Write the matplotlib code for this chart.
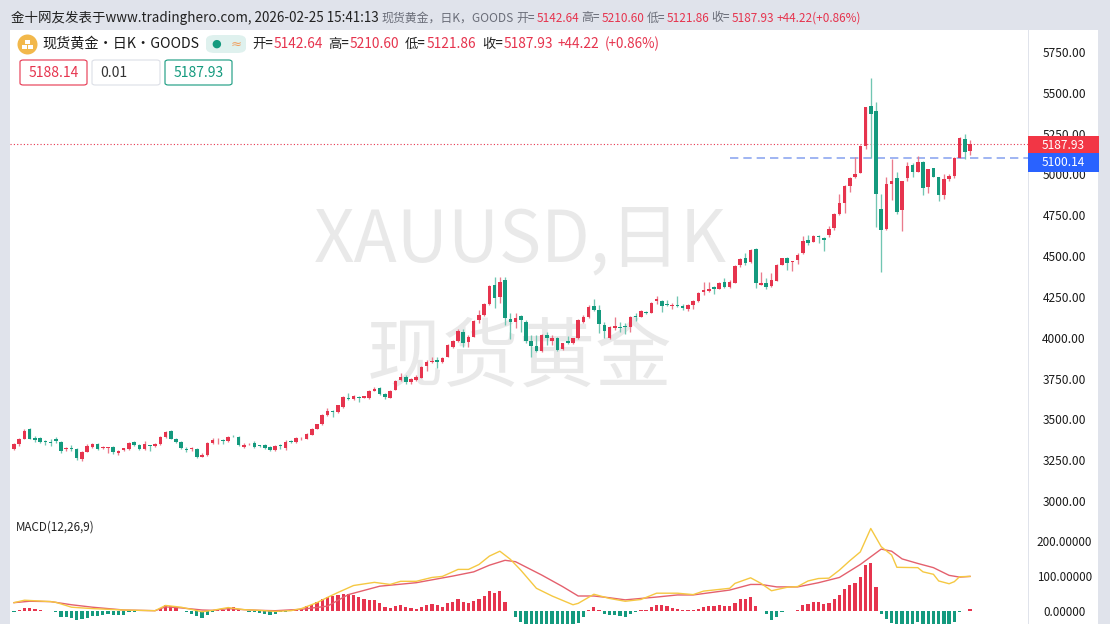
import matplotlib
matplotlib.use("Agg")
import matplotlib.pyplot as plt
from matplotlib.patches import Rectangle, FancyBboxPatch, Circle

opens = [3317,3346,3382,3441,3388,3386,3366,3364,3382,3362,
3319,3327,3319,3256,3299,3333,3352,3325,3327,3333,
3293,3311,3317,3364,3344,3317,3344,3337,3346,3391,
3429,3382,3362,3319,3317,3321,3272,3282,3354,3366,
3372,3366,3399,3393,3333,3346,3354,3341,3341,3331,
3311,3343,3323,3368,3360,3384,3380,3405,3441,3472,
3527,3552,3544,3574,3631,3623,3638,3633,3631,3676,
3691,3656,3633,3682,3742,3762,3727,3742,3756,3827,
3852,3864,3852,3884,3946,3980,4037,3976,4007,4109,
4139,4205,4323,4248,4354,4117,4095,4134,4097,3983,
3950,3919,4017,3981,3997,3930,3981,3966,3997,4099,
4126,4197,4170,4075,3997,4062,4068,4072,4068,4136,
4130,4158,4154,4225,4225,4207,4197,4201,4195,4179,
4199,4225,4278,4287,4309,4301,4340,4309,4338,4444,
4491,4462,4542,4324,4334,4314,4349,4447,4487,4463,
4477,4518,4600,4589,4626,4612,4630,4671,4759,4828,
4932,4983,5012,5175,5420,5387,4787,4665,4944,4977,
4783,4981,5059,5018,5079,4922,5038,4983,4877,4973,
4991,5103,5220,5142.64]
highs = [3358,3388,3439,3446,3395,3390,3374,3378,3390,3370,
3329,3341,3323,3309,3352,3358,3358,3335,3333,3337,
3313,3327,3360,3370,3350,3370,3344,3356,3395,3431,
3435,3384,3368,3333,3329,3327,3293,3364,3384,3384,
3382,3399,3403,3399,3354,3358,3368,3343,3349,3335,
3343,3347,3372,3372,3392,3392,3417,3447,3474,3533,
3568,3558,3589,3644,3664,3650,3642,3646,3680,3697,
3701,3660,3680,3742,3782,3772,3752,3772,3827,3864,
3884,3884,3884,3962,3986,4052,4052,4017,4109,4170,
4211,4323,4370,4374,4370,4154,4150,4140,4109,4015,
4017,4021,4038,4017,4003,3970,4011,4001,4113,4140,
4201,4238,4201,4099,4072,4126,4099,4089,4134,4150,
4168,4164,4219,4256,4232,4232,4211,4256,4207,4207,
4232,4281,4344,4344,4317,4340,4364,4354,4444,4489,
4517,4542,4548,4400,4365,4396,4452,4491,4493,4471,
4518,4624,4630,4630,4630,4616,4685,4763,4881,4936,
4983,5105,5181,5416,5589,5446,4881,4987,5093,5018,
4963,5079,5069,5114,5085,5036,5042,4987,5004,5004,
5105,5232,5246,5210.60]
lows = [3313,3337,3380,3378,3364,3356,3344,3337,3358,3293,
3309,3309,3252,3242,3297,3327,3313,3321,3293,3286,
3282,3307,3313,3337,3313,3313,3309,3333,3344,3386,
3378,3358,3319,3299,3309,3266,3268,3278,3348,3350,
3352,3362,3391,3335,3325,3340,3327,3331,3317,3309,
3307,3317,3315,3354,3356,3374,3378,3403,3438,3468,
3523,3513,3540,3570,3621,3619,3609,3629,3627,3672,
3650,3625,3629,3678,3738,3717,3719,3738,3752,3797,
3848,3817,3848,3880,3939,3976,3941,3946,4003,4092,
4135,4201,4184,4215,4078,3991,4062,4038,3966,3885,
3915,3913,3956,3956,3921,3926,3962,3962,3993,4089,
4119,4164,4028,4001,3991,4048,4034,4021,4038,4105,
4126,4146,4150,4207,4160,4195,4174,4187,4170,4166,
4179,4221,4262,4283,4268,4297,4305,4305,4334,4432,
4444,4456,4303,4320,4298,4310,4345,4443,4416,4406,
4453,4514,4569,4585,4579,4534,4620,4657,4753,4767,
4895,4977,5008,5154,5099,4677,4400,4661,4844,4757,
4651,4963,4987,5014,4875,4885,4983,4840,4848,4961,
4981,5099,5093,5121.86]
closes = [3350,3382,3431,3380,3374,3362,3360,3358,3366,3309,
3325,3321,3262,3303,3337,3352,3317,3331,3331,3297,
3309,3323,3354,3344,3317,3346,3337,3352,3391,3423,
3382,3362,3325,3313,3323,3272,3282,3358,3374,3370,
3366,3393,3395,3340,3344,3352,3331,3335,3327,3313,
3339,3335,3364,3362,3388,3388,3413,3441,3470,3527,
3554,3542,3585,3636,3625,3640,3633,3642,3672,3684,
3654,3636,3676,3737,3762,3727,3746,3758,3823,3854,
3858,3854,3878,3956,3980,4041,3970,4007,4105,4139,
4205,4317,4241,4343,4119,4095,4119,4109,3977,3952,
3921,4017,3997,3997,3926,3966,3970,3997,4109,4126,
4187,4170,4085,4044,4064,4072,4062,4066,4130,4126,
4164,4154,4215,4236,4195,4199,4203,4193,4183,4201,
4225,4276,4293,4297,4299,4336,4309,4344,4440,4480,
4456,4538,4334,4334,4310,4355,4447,4487,4457,4471,
4504,4591,4579,4624,4614,4596,4665,4759,4824,4932,
4979,5004,5175,5412,5371,4881,4657,4940,4959,4769,
4963,5054,5018,5077,4920,5036,4987,4875,4973,4989,
5099,5226,5140,5187.93]

hist = [-5,2,7,7,5,2,-1,-2,-3,-17,
-17,-22,-27,-25,-20,-15,-15,-12,-10,-11,
-12,-12,-5,-3,-2,-2,1,2,6,15,
14,12,-1,-4,-8,-16,-20,-12,-5,1,
1,6,10,5,-2,-3,-5,-6,-10,-12,
-9,-5,-3,1,4,6,13,17,24,34,
40,42,45,48,49,46,38,33,30,30,
21,10,8,13,16,10,8,5,12,16,
19,16,12,23,25,33,24,22,28,33,
42,56,50,56,25,-1,-19,-31,-42,-46,
-50,-52,-52,-50,-46,-44,-42,-40,-35,-19,
1,10,2,-9,-12,-12,-15,-17,-9,-4,
1,3,11,16,15,13,8,4,1,1,
1,5,11,13,13,16,13,13,22,33,
34,38,13,-1,-8,-27,-17,-3,-1,-1,
1,17,19,25,25,20,22,33,45,62,
73,80,96,130,136,68,-10,-25,-34,-42,
-44,-44,-42,-33,-40,-42,-42,-42,-42,-40,
-31,-3,-1,4]

dif_idx = [1,3,8,9,12,16,22,28,30,33,37,39,42,45,48,51,54,56,59,61,63,66,70,73,75,78,81,83,86,88,90,92,94,96,98,
           101,104,108,109,112,115,118,121,124,128,131,133,138,139,142,144,146,149,151,153,155,157,159,161,163,165,
           167,169,170,174,175,177,178,180,181,182,184]
dif_val = [23,30,26,24,10,6,2,0,15,10,-3,1,9,3,1,-2,0,6,23,38,52,72,81,75,84,84,95,98,118,118,132,156,170,147,116,
           64,42,17,21,47,35,27,32,50,50,46,56,64,78,94,78,57,67,69,85,92,93,116,143,168,235,
           183,159,124,123,111,104,85,77,83,97,98]
dea_idx = [1,4,8,12,16,22,28,30,33,37,39,42,45,48,51,56,61,65,71,78,85,89,92,95,97,
           102,106,109,112,115,118,124,128,131,138,142,144,147,151,155,159,163,167,169,171,174,177,180,182,184]
dea_val = [23,27,26,17,10,2,0,11,8,2,1,6,3,1,0,4,13,46,70,80,99,111,130,144,140,
           102,69,42,42,37,31,39,45,45,59,75,75,68,68,80,95,132,176,170,148,135,123,101,96,98]

price_ticks = [3000,3250,3500,3750,4000,4250,4500,4750,5000,5250,5500,5750]
macd_ticks = [0,100,200]
ask_price = 5187.93
line_price = 5100.14
line_start = 138

RED = "#e6344e"; GREEN = "#149a7e"
RED_W = "#ea7b8c"; GREEN_W = "#71c6b2"
BG = "#e0e3eb"; TXT = "#1a1a1a"
CJK = ["Noto Sans CJK SC", "DejaVu Sans"]
plt.rcParams["font.family"] = CJK

W, H = 1110, 624
fig = plt.figure(figsize=(W/100, H/100), dpi=100, facecolor=BG)

def axbox(x0, y0, x1, y1):
    return [x0/W, 1-y1/H, (x1-x0)/W, (y1-y0)/H]
def T(x, y, s, **kw):
    kw.setdefault("va", "center"); kw.setdefault("ha", "left")
    kw.setdefault("color", TXT); kw.setdefault("fontsize", 8.6)
    return fig.text(x/W, 1-y/H, s, **kw)

# white panel
fig.add_artist(Rectangle((10/W, 0), (1098-10)/W, 1-30/H, transform=fig.transFigure, fc="white", ec="none", zorder=-5))

XL = (0.234, 195.1)
xs = list(range(1, len(opens)+1))

ax = fig.add_axes(axbox(10, 30, 1028, 516), facecolor="none")
ax.set_zorder(2)
ax.set_xlim(*XL); ax.set_ylim(2908, 5885)

# watermarks sit under the candle axes
T(520, 241, "XAUUSD,日K", ha="center", fontsize=51, color="#e9e9e9", zorder=0)
T(519, 360, "现货黄金", ha="center", fontsize=55, color="#e9e9e9", zorder=0)

for x, o, h, l, c in zip(xs, opens, highs, lows, closes):
    up = c >= o
    ax.vlines(x, l, h, color=RED_W if up else GREEN_W, lw=0.95, zorder=3)
bodies_bottom = [min(o, c) for o, c in zip(opens, closes)]
bodies_h = [abs(c-o) for o, c in zip(opens, closes)]
cols = [RED if c >= o else GREEN for o, c in zip(opens, closes)]
ax.bar(xs, bodies_h, bottom=bodies_bottom, width=0.68, color=cols, linewidth=0, zorder=4)
ax.axhline(ask_price, color="#e6344e", lw=0.8, ls=(0, (1, 2)), zorder=2)
ax.hlines(line_price, line_start, XL[1], color="#8fa8f0", lw=1.2, ls=(0, (5, 3)), zorder=2)

ax.yaxis.tick_right()
ax.set_yticks(price_ticks, [f"{v:.2f}" for v in price_ticks])
ax.tick_params(axis="y", length=0, pad=26, labelsize=8.6, labelcolor=TXT)
for lab in ax.get_yticklabels():
    lab.set_ha("center")
ax.set_xticks([])
for k, s in ax.spines.items():
    s.set_visible(False)

mx = fig.add_axes(axbox(10, 516, 1028, 624), facecolor="none")
mx.set_zorder(2)
mx.set_xlim(*XL); mx.set_ylim(-38, 270.6)
mx.bar(xs, hist, width=0.62, color=[RED if v >= 0 else GREEN for v in hist], linewidth=0, zorder=2)
mx.plot(dea_idx, dea_val, color="#e4606d", lw=1.0, zorder=3)
mx.plot(dif_idx, dif_val, color="#f5c842", lw=1.0, zorder=4)
mx.yaxis.tick_right()
mx.set_yticks(macd_ticks, [f"{v:.5f}" for v in macd_ticks])
mx.tick_params(axis="y", length=0, pad=26, labelsize=8.4, labelcolor=TXT)
for lab in mx.get_yticklabels():
    lab.set_ha("center")
mx.set_xticks([])
for k, s in mx.spines.items():
    s.set_visible(False)

# axis separator
fig.add_artist(Rectangle((1028/W, 0), 1/W, 1-30/H, transform=fig.transFigure, fc=BG, ec="none", zorder=3))

# price labels
fig.add_artist(Rectangle((1028/W, 1-153/H), 71/W, 17/H, transform=fig.transFigure, fc="#f23645", ec="none", zorder=5))
fig.add_artist(Rectangle((1028/W, 1-172/H), 71/W, 19/H, transform=fig.transFigure, fc="#2962ff", ec="none", zorder=5))
T(1042, 145, "5187.93", color="white", zorder=6)
T(1042, 163, "5100.14", color="white", zorder=6)

# header strip
T(11, 18, "金十网友发表于www.tradinghero.com, 2026-02-25 15:41:13", fontsize=9.7, color="#222222")
T(381, 18, "现货黄金，日K，GOODS", fontsize=8.6, color="#6a6d78")
for x, lab, val in [(516.5, "开=", "5142.64"), (581.5, "高=", "5210.60"), (646.5, "低=", "5121.86"), (711.5, "收=", "5187.93")]:
    T(x, 18, lab, fontsize=8.6, color="#6a6d78")
    T(x+20, 18, val, fontsize=8.5, color=RED)
T(777, 18, "+44.22(+0.86%)", fontsize=8.5, color=RED)

# legend row
icon = fig.add_axes(axbox(17, 34, 38, 55), facecolor="none")
icon.set_zorder(4)
icon.set_xlim(0, 21); icon.set_ylim(21, 0); icon.axis("off")
icon.add_patch(Circle((10.5, 10.5), 10, fc="#f2b84b", ec="none"))
for r in [(8, 6, 5, 4), (5, 11, 5, 4), (11, 11, 5, 4)]:
    icon.add_patch(Rectangle(r[:2], r[2], r[3], fc="white", ec="none"))
fig.add_artist(FancyBboxPatch((206/W, 1-53/H), 40/W, 18/H, boxstyle="round,pad=0,rounding_size=0.008",
                              transform=fig.transFigure, fc="#dff1ee", ec="none", mutation_aspect=1))
T(211, 44, "●", fontsize=8, color="#149a7e", family="DejaVu Sans")
T(231, 44, "≈", fontsize=9.5, color="#f0a060", family="DejaVu Sans")
T(42, 44, "现货黄金・日K・GOODS", fontsize=10.2, color="#1a1a1a")
for x, lab, val in [(252, "开=", "5142.64"), (328, "高=", "5210.60"), (405, "低=", "5121.86"), (482, "收=", "5187.93")]:
    T(x, 44, lab, fontsize=9.6, color="#222222")
    T(x+21.5, 44, val, fontsize=9.9, color=RED)
T(558, 44, "+44.22", fontsize=9.9, color=RED)
T(605, 44, "(+0.86%)", fontsize=9.7, color=RED)

# order boxes
for x0, x1, ec, col, s, ha in [(20, 87, RED, RED, "5188.14", "center"), (92, 160, "#dcdfe6", "#333333", "0.01", "left"), (165, 232, GREEN, GREEN, "5187.93", "center")]:
    fig.add_artist(FancyBboxPatch((x0/W, 1-85/H), (x1-x0)/W, 25/H, boxstyle="round,pad=0,rounding_size=0.003",
                                  transform=fig.transFigure, fc="white", ec=ec, lw=0.8))
    T((x0+x1)/2 if ha == "center" else x0+8.5, 73, s, ha=ha, fontsize=10, color=col)

T(16, 527, "MACD(12,26,9)", fontsize=8.4, color="#222222")

fig.savefig("out.png", dpi=100, facecolor=fig.get_facecolor())
